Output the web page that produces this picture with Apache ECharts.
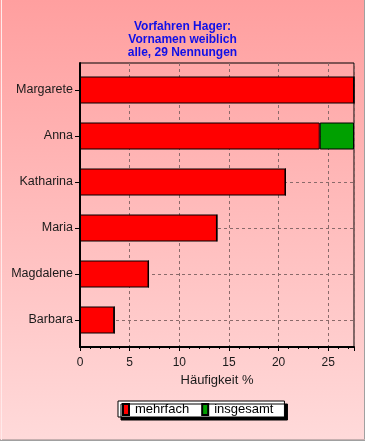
<!DOCTYPE html>
<html><head><meta charset="utf-8">
<script src="https://cdn.jsdelivr.net/npm/echarts@6/dist/echarts.min.js"></script>
<style>html,body{margin:0;padding:0;}#c{width:365px;height:441px;}</style>
</head><body><div id="c"></div>
<script>
const titleLines = ['Vorfahren Hager:', 'Vornamen weiblich', 'alle, 29 Nennungen'];
const categories = ['Margarete', 'Anna', 'Katharina', 'Maria', 'Magdalene', 'Barbara'];
const mehrfach = [27.59, 24.14, 20.69, 13.79, 6.90, 3.45];
const insgesamt = [0, 3.45, 0, 0, 0, 0];
const xMax = 27.59;
const xInterval = 5;
const xName = 'Häufigkeit %';

const font = 'Liberation Sans, Arial, sans-serif';
const gridColor = '#8a6a6a';
const chart = echarts.init(document.getElementById('c'), null, {renderer: 'canvas'});
chart.setOption({
  animation: false,
  backgroundColor: new echarts.graphic.LinearGradient(0, 0, 0, 1, [
    {offset: 0, color: '#FF9F9F'}, {offset: 1, color: '#FFDADA'}
  ]),
  title: {
    text: titleLines.join('\n'), left: 'center', top: 15,
    textStyle: {fontFamily: font, fontSize: 12, fontWeight: 'bold', color: '#1010E8', lineHeight: 13}
  },
  legend: {
    left: 118, top: 401, padding: [2, 11, 1, 4], itemGap: 12,
    itemWidth: 6, itemHeight: 11, icon: 'rect',
    backgroundColor: '#ffffff', borderColor: '#000', borderWidth: 1,
    shadowColor: '#000', shadowBlur: 0, shadowOffsetX: 3, shadowOffsetY: 3,
    textStyle: {fontFamily: font, fontSize: 13, color: '#000', padding: [0, 0, 0, 1]},
    data: ['mehrfach', 'insgesamt']
  },
  grid: [
    {left: 80, right: 11, top: 63, bottom: 94, show: true, borderColor: '#000', borderWidth: 1, backgroundColor: 'transparent'},
    {left: 80, right: 11, top: 67, bottom: 98},
    {left: 80, right: 11, top: 90, bottom: 121}
  ],
  xAxis: [
    {gridIndex: 0, type: 'value', min: 0, max: xMax, interval: xInterval,
     axisLine: {show: true, lineStyle: {color: '#000', width: 2}},
     axisTick: {show: true, length: 4, lineStyle: {color: '#000'}},
     minorTick: {show: true, splitNumber: 5, length: 2, lineStyle: {color: '#000'}},
     splitLine: {show: true, lineStyle: {color: gridColor, type: [3, 3], width: 1}},
     axisLabel: {fontFamily: font, fontSize: 12, color: '#1a1a1a', margin: 10, showMaxLabel: false},
     name: xName, nameLocation: 'middle', nameGap: 22,
     nameTextStyle: {fontFamily: font, fontSize: 13, color: '#1a1a1a', verticalAlign: 'top'}},
    {gridIndex: 1, type: 'value', min: 0, max: xMax, show: false},
    {gridIndex: 2, type: 'value', min: 0, max: xMax, show: false}
  ],
  yAxis: [
    {gridIndex: 0, type: 'value', min: 0, max: 1,
     axisLine: {show: true, lineStyle: {color: '#000', width: 2}},
     axisTick: {show: false}, axisLabel: {show: false}, splitLine: {show: false}},
    {gridIndex: 1, type: 'category', inverse: true, data: categories,
     axisLine: {show: false},
     axisTick: {show: true, alignWithLabel: true, length: 5, lineStyle: {color: '#000'}},
     axisLabel: {fontFamily: font, fontSize: 12.5, color: '#1a1a1a', margin: 7},
     splitLine: {show: false}},
    {gridIndex: 2, type: 'value', min: 0, max: 5, interval: 1,
     axisLine: {show: false}, axisTick: {show: false}, axisLabel: {show: false},
     splitLine: {show: true, lineStyle: {color: gridColor, type: [3, 3], width: 1}}}
  ],
  series: [
    {name: 'mehrfach', type: 'bar', xAxisIndex: 1, yAxisIndex: 1, stack: 's', barWidth: 27,
     data: mehrfach, itemStyle: {color: '#FF0000', borderColor: '#000', borderWidth: 1}},
    {name: 'insgesamt', type: 'bar', xAxisIndex: 1, yAxisIndex: 1, stack: 's', barWidth: 27,
     data: insgesamt, itemStyle: {color: '#00A000', borderColor: '#000', borderWidth: 1}}
  ],
  graphic: [
    {type: 'line', shape: {x1: 364.5, y1: 0, x2: 364.5, y2: 441}, style: {stroke: '#a0a0a0', lineWidth: 1}},
    {type: 'line', shape: {x1: 0, y1: 440.5, x2: 365, y2: 440.5}, style: {stroke: '#a0a0a0', lineWidth: 1}},
    {type: 'line', shape: {x1: 0, y1: 439.5, x2: 365, y2: 439.5}, style: {stroke: '#c8b0b0', lineWidth: 1}},
    {type: 'line', shape: {x1: 1.5, y1: 0, x2: 1.5, y2: 440}, style: {stroke: '#ffeaea', lineWidth: 1}}
  ]
});
</script></body></html>
